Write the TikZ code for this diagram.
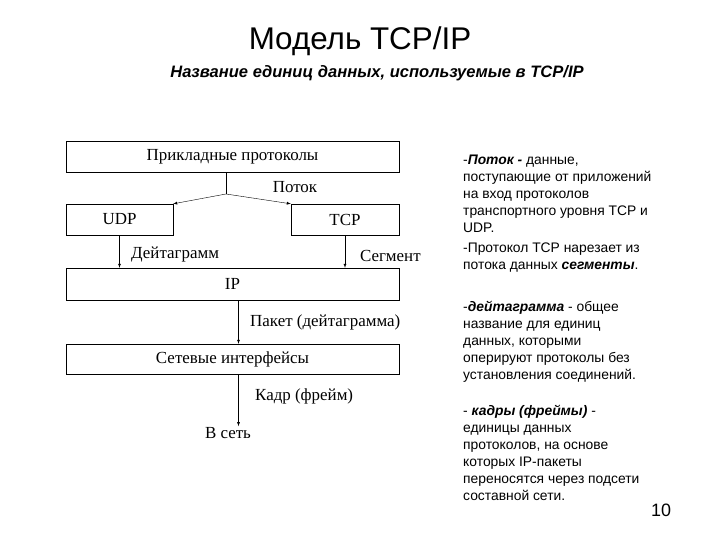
\documentclass[tikz,border=0pt]{standalone}
\usepackage{fontspec}
\setmainfont{Liberation Sans}
\newfontfamily\diafont{Liberation Serif}
\usetikzlibrary{arrows}
\tikzstyle{layer}=[draw=black, thin, minimum height=31bp, inner sep=0pt, font=\diafont\fontsize{17}{19}\selectfont]
\tikzstyle{unit}=[inner sep=1pt, font=\diafont\fontsize{17}{19}\selectfont]
\tikzstyle{note}=[anchor=north west, align=left, inner sep=0pt, font=\fontsize{13.9}{17}\selectfont]
\tikzstyle{flow}=[-latex, thin]

\begin{document}
\begin{tikzpicture}[x=1bp, y=-1bp]
    \useasboundingbox (0,0) rectangle (720,540);
    \node[font=\fontsize{31.5}{34}\selectfont] (title) at (360,41) {Модель TCP/IP};
    \node[font=\bfseries\itshape\fontsize{16.6}{19}\selectfont] (subtitle) at (377,73) {Название единиц данных, используемые в TCP/IP};

    % stack of layers
    \node[layer, minimum width=333bp] (app) at (232.5,156.5) {Прикладные протоколы};
    \node[layer, minimum width=107bp] (udp) at (119.5,219.5) {UDP};
    \node[layer, minimum width=108bp] (tcp) at (345,219.5) {TCP};
    \node[layer, minimum width=333bp, minimum height=32bp] (ip) at (232.5,284) {IP};
    \node[layer, minimum width=333bp, minimum height=30bp] (net) at (232.5,359) {Сетевые интерфейсы};
    \node[unit] (out) at (228,433) {В сеть};
    \coordinate (split) at (226,194);

    \draw[thin] (split |- app.south) -- (split);
    \draw[flow] (split) -- (udp.north east);
    \draw[flow] (split) -- (tcp.north west);
    \draw[flow] (udp.south) -- (udp.south |- ip.north);
    \draw[flow] (tcp.south) -- (tcp.south |- ip.north);
    \draw[flow] ([xshift=6bp]ip.south) -- ([xshift=6bp]net.north);
    \draw[flow] ([xshift=6bp]net.south) -- ([xshift=6bp]net.south |- out.north);

    \node[unit] (stream) at (295,187) {Поток};
    \node[unit, anchor=west] (dgram) at (130,255) {Дейтаграмм};
    \node[unit, anchor=west] (segm) at (359,256) {Сегмент};
    \node[unit, anchor=west] (packet) at (249,322) {Пакет (дейтаграмма)};
    \node[unit, anchor=west] (frame) at (254,396) {Кадр (фрейм)};

    % notes on the right
    \node[note] (n1) at (463,155) {-\textbf{\textit{Поток -}} данные,\\поступающие от приложений\\на вход протоколов\\транспортного уровня TCP и\\UDP.};
    \node[note] (n2) at (463,243) {-Протокол TCP нарезает из\\потока данных \textbf{\textit{сегменты}}.};
    \node[note] (n3) at (463,301) {-\textbf{\textit{дейтаграмма}} - общее\\название для единиц\\данных, которыми\\оперируют протоколы без\\установления соединений.};
    \node[note] (n4) at (463,405) {- \textbf{\textit{кадры (фреймы)}} -\\единицы данных\\протоколов, на основе\\которых IP-пакеты\\переносятся через подсети\\составной сети.};

    \node[font=\fontsize{18}{20}\selectfont] (page) at (661,510) {10};
\end{tikzpicture}
\end{document}
